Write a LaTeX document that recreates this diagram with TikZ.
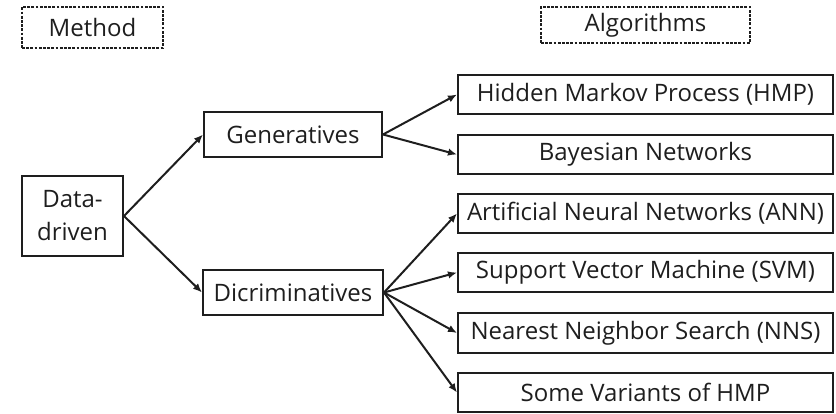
\documentclass[tikz,border=0pt]{standalone}
\usepackage{fontspec}
\setmainfont{Open Sans}
\usetikzlibrary{arrows.meta}
\definecolor{ink}{HTML}{1E1E1E}
\definecolor{txt}{HTML}{1E1E1E}
\begin{document}
\begin{tikzpicture}[x=1pt,y=-1pt,
  box/.style={draw=ink,line width=2pt,inner sep=0pt,align=center,
    text=txt,font=\fontsize{24}{33}\selectfont},
  head/.style={box,dash pattern=on 2.8pt off 1.4pt,line width=2pt},
  algo/.style={box,minimum width=375pt,minimum height=39pt},
  link/.style={draw=ink,line width=2pt,-{Latex[length=9pt,width=7.5pt]}}]
\useasboundingbox (0,0) rectangle (836,414);
% column headings
\node[head,minimum width=141pt,minimum height=41pt] (method) at (92.5,27.5) {Method};
\node[head,minimum width=209pt,minimum height=36pt] (algorithms) at (645.5,25) {Algorithms};
% method tree
\node[box,minimum width=101pt,minimum height=80pt] (dd) at (72.5,216) {Data-\\driven};
\node[box,minimum width=178pt,minimum height=45pt] (gen) at (293,134.5) {Generatives};
\node[box,minimum width=180pt,minimum height=45pt] (dis) at (293,292.5) {Dicriminatives};
% algorithms
\node[algo] (hmp) at (645.5,94.5) {Hidden Markov Process (HMP)};
\node[algo] (bn)  at (645.5,154.5) {Bayesian Networks};
\node[algo] (ann) at (645.5,213.5) {Artificial Neural Networks (ANN)};
\node[algo] (svm) at (645.5,272.5) {Support Vector Machine (SVM)};
\node[algo] (nns) at (645.5,333) {Nearest Neighbor Search (NNS)};
\node[algo] (var) at (645.5,392.5) {Some Variants of HMP};
% connectors
\draw[link] (dd.east) -- (gen.west);
\draw[link] (dd.east) -- (dis.west);
\draw[link] (gen.east) -- (hmp.west);
\draw[link] (gen.east) -- (bn.west);
\draw[link] (dis.east) -- (ann.west);
\draw[link] (dis.east) -- (svm.west);
\draw[link] (dis.east) -- (nns.west);
\draw[link] (dis.east) -- (var.west);
\end{tikzpicture}
\end{document}
